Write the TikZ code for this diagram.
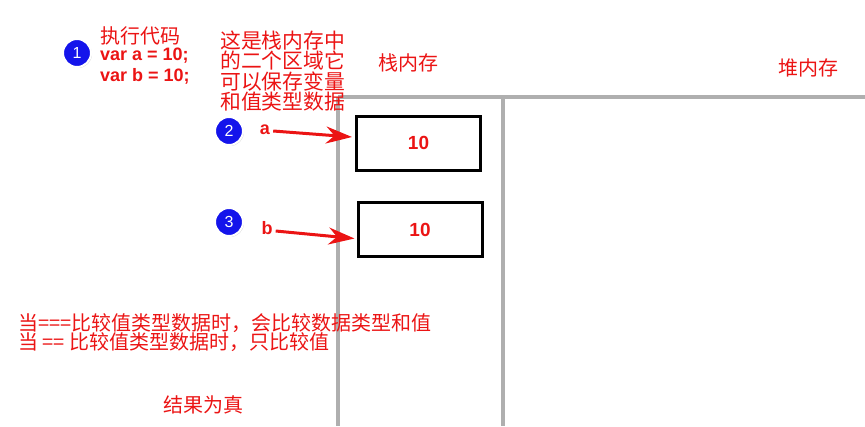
\documentclass[tikz,border=0pt]{standalone}
\usepackage{fontspec}
\setmainfont{Liberation Sans}
\newfontfamily\cjk{Noto Sans CJK SC}
\usetikzlibrary{arrows.meta,calc,shadows}
\definecolor{txtred}{RGB}{235,20,20}
\definecolor{ballblue}{RGB}{20,20,235}
\definecolor{walls}{RGB}{175,175,175}
\tikzset{
  cn/.style={text=txtred,font=\cjk\fontsize{20}{20}\selectfont,inner sep=0pt},
  lat/.style={text=txtred,font=\bfseries\fontsize{18}{19.5}\selectfont,inner sep=0pt},
  ball/.style={circle,fill=ballblue,draw=white,line width=2pt,minimum size=28pt,inner sep=0pt,text=white,font=\fontsize{16}{16}\selectfont,drop shadow={opacity=0.3,shadow xshift=1pt,shadow yshift=-1pt}},
  cell/.style={draw=black,line width=3pt,minimum width=124pt,minimum height=54pt,inner sep=0pt,text=txtred,font=\bfseries\fontsize{19}{19}\selectfont},
  wall/.style={draw=walls,line width=4pt},
  ptr/.style={draw=txtred,line width=3pt,-{Stealth[length=26pt,width=17pt]}}
}
\begin{document}
\begin{tikzpicture}[x=1pt,y=-1pt]
\useasboundingbox (0,0) rectangle (865,426);
\coordinate (hl) at (338,97);
\coordinate (hr) at (865,97);
\coordinate (lb) at (338,426);
\coordinate (rt) at (503,97);
\coordinate (rb) at (503,426);
\draw[wall] (hl) -- (hr);
\draw[wall] (hl) -- (lb);
\draw[wall] (rt) -- (rb);

\node[ball] (c1) at (77,53) {1};
\node[ball] (c2) at (229,131) {2};
\node[ball] (c3) at (229,222) {3};

\node[cn,anchor=west] (code) at (100,36) {执行代码};
\node[lat,anchor=west] (va) at (100,56) {var a = 10;};
\node[lat,anchor=west] (vb) at (100,76) {var b = 10;};

\node[cn,anchor=north west,align=left,font=\cjk\fontsize{20.8}{20.2}\selectfont] (desc) at (220,31) {这是栈内存中\\的二个区域它\\可以保存变量\\和值类型数据};

\node[cn] (stack) at (408,63) {栈内存};
\node[cn] (heap) at (808,68) {堆内存};

\node[cell] (box1) at (418.5,143) {10};
\node[cell] (box2) at (420,229.5) {10};

\node[lat] (a) at (265,130) {a};
\node[lat] (b) at (267,228) {b};
\draw[ptr] (a.east) ++(3,1) -- ([xshift=-3pt,yshift=6pt]box1.west);
\draw[ptr] (b.east) ++(3,3) -- ([xshift=-2pt,yshift=-9pt]box2.west);

\node[cn,anchor=west] (l1) at (18,323) {当===比较值类型数据时，会比较数据类型和值};
\node[cn,anchor=west] (l2) at (18,342) {当 == 比较值类型数据时，只比较值};
\node[cn] (res) at (203,405) {结果为真};
\end{tikzpicture}
\end{document}
